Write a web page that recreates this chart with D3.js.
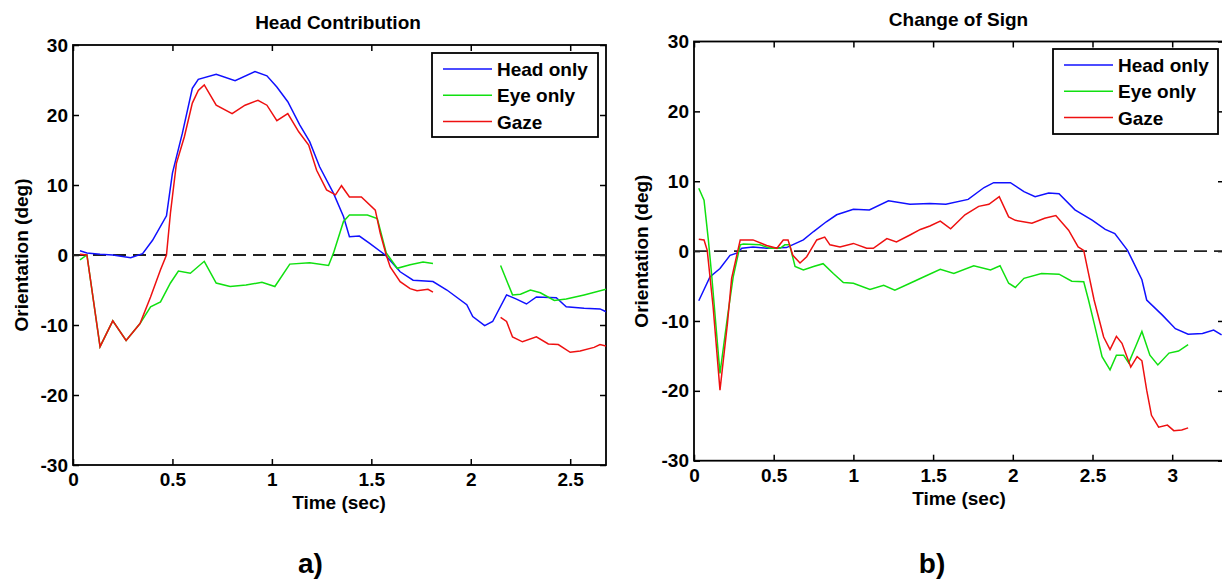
<!DOCTYPE html>
<html>
<head>
<meta charset="utf-8">
<script src="https://cdn.jsdelivr.net/npm/d3@7"></script>
<style>
  body { margin: 0; background: #fff; }
  text { font-family: "Liberation Sans", Arial, sans-serif; font-weight: bold; fill: #000; }
</style>
</head>
<body>
<script>
// [time (sec), orientation (deg)] ; null = gap in the record
const headA = [[0.035,0.6],[0.07,0.3],[0.136,0.1],[0.20,0.0],[0.29,-0.4],[0.35,0.2],[0.40,2.1],[0.47,5.6],[0.50,11.7],[0.55,17.4],[0.60,23.8],[0.63,25.1],[0.72,25.8],[0.815,24.9],[0.915,26.2],[0.975,25.6],[1.025,24.0],[1.08,21.9],[1.14,18.6],[1.19,16.2],[1.24,12.6],[1.31,8.8],[1.36,5.5],[1.39,2.6],[1.44,2.7],[1.49,1.7],[1.57,0.0],[1.645,-2.4],[1.71,-3.6],[1.81,-3.8],[1.88,-5.0],[1.98,-7.1],[2.01,-8.8],[2.07,-10.1],[2.11,-9.5],[2.18,-5.7],[2.23,-6.3],[2.28,-7.0],[2.33,-6.0],[2.43,-6.1],[2.48,-7.4],[2.57,-7.6],[2.65,-7.7],[2.68,-8.1]];
const eyeA = [[0.035,-0.7],[0.07,0.0],[0.136,-13.1],[0.20,-9.4],[0.267,-12.2],[0.337,-9.8],[0.39,-7.4],[0.44,-6.7],[0.49,-4.0],[0.53,-2.3],[0.59,-2.6],[0.66,-0.9],[0.72,-4.0],[0.79,-4.5],[0.87,-4.3],[0.95,-3.9],[1.015,-4.5],[1.09,-1.3],[1.19,-1.1],[1.285,-1.5],[1.31,0.3],[1.36,4.8],[1.39,5.7],[1.48,5.7],[1.53,5.2],[1.575,0.3],[1.63,-1.9],[1.695,-1.4],[1.76,-1.0],[1.81,-1.2],null,[2.15,-1.5],[2.21,-5.7],[2.25,-5.6],[2.30,-5.0],[2.35,-5.4],[2.42,-6.5],[2.48,-6.3],[2.57,-5.7],[2.68,-4.9]];
const gazeA = [[0.035,0.1],[0.07,0.0],[0.136,-13.1],[0.20,-9.4],[0.267,-12.2],[0.337,-9.8],[0.39,-6.0],[0.44,-2.1],[0.47,0.0],[0.49,6.0],[0.52,13.1],[0.56,16.9],[0.60,21.7],[0.63,23.5],[0.66,24.3],[0.72,21.4],[0.80,20.2],[0.865,21.4],[0.93,22.1],[0.975,21.4],[1.025,19.2],[1.08,20.2],[1.135,17.6],[1.185,15.7],[1.225,12.1],[1.275,9.3],[1.32,8.6],[1.35,9.9],[1.39,8.3],[1.45,8.3],[1.52,6.4],[1.545,3.1],[1.575,0.0],[1.595,-1.7],[1.645,-3.8],[1.695,-4.8],[1.73,-5.1],[1.785,-4.9],[1.81,-5.3],null,[2.15,-8.9],[2.18,-9.5],[2.21,-11.7],[2.26,-12.4],[2.33,-11.7],[2.39,-12.7],[2.44,-12.8],[2.50,-13.9],[2.55,-13.7],[2.62,-13.2],[2.65,-12.8],[2.68,-13.0]];

const headB = [[0.03,-7.1],[0.10,-3.7],[0.163,-2.5],[0.226,-0.6],[0.268,-0.3],[0.30,0.4],[0.37,0.6],[0.456,0.4],[0.58,0.5],[0.686,1.6],[0.75,2.8],[0.83,4.2],[0.895,5.2],[1.0,6.0],[1.10,5.9],[1.22,7.2],[1.355,6.7],[1.48,6.8],[1.58,6.7],[1.72,7.4],[1.82,9.1],[1.88,9.8],[1.985,9.8],[2.07,8.5],[2.14,7.8],[2.225,8.3],[2.29,8.2],[2.39,5.9],[2.50,4.4],[2.58,3.1],[2.64,2.5],[2.72,0.1],[2.75,-1.3],[2.81,-4.1],[2.84,-7.0],[2.94,-9.2],[3.02,-11.1],[3.10,-11.9],[3.19,-11.8],[3.26,-11.3],[3.31,-12.0]];
const eyeB = [[0.03,9.0],[0.063,7.3],[0.09,1.6],[0.11,-3.2],[0.163,-17.5],[0.21,-9.4],[0.246,-3.7],[0.29,0.9],[0.31,1.0],[0.414,0.9],[0.477,0.4],[0.54,0.4],[0.57,0.9],[0.60,0.9],[0.634,-2.2],[0.686,-2.7],[0.75,-2.2],[0.81,-1.8],[0.874,-3.2],[0.937,-4.5],[1.0,-4.6],[1.104,-5.5],[1.19,-4.9],[1.26,-5.6],[1.355,-4.6],[1.45,-3.6],[1.545,-2.6],[1.63,-3.2],[1.755,-2.1],[1.86,-2.7],[1.92,-2.1],[1.974,-4.6],[2.016,-5.2],[2.07,-3.9],[2.18,-3.2],[2.29,-3.3],[2.37,-4.3],[2.445,-4.4],[2.475,-7.0],[2.51,-10.3],[2.56,-15.1],[2.61,-17.0],[2.65,-14.9],[2.695,-14.9],[2.727,-16.0],[2.77,-13.7],[2.81,-11.5],[2.86,-14.9],[2.91,-16.3],[2.98,-14.6],[3.04,-14.3],[3.10,-13.4]];
const gazeB = [[0.03,1.7],[0.063,1.6],[0.083,0.1],[0.12,-8.0],[0.163,-19.9],[0.21,-10.3],[0.236,-3.9],[0.29,1.6],[0.37,1.6],[0.456,0.8],[0.52,0.4],[0.56,1.6],[0.59,1.6],[0.62,-0.6],[0.665,-1.7],[0.707,-0.8],[0.77,1.6],[0.82,2.0],[0.853,0.9],[0.916,0.6],[1.0,1.1],[1.083,0.4],[1.125,0.4],[1.21,1.8],[1.27,1.3],[1.355,2.3],[1.42,3.1],[1.48,3.6],[1.545,4.3],[1.61,3.2],[1.70,5.2],[1.786,6.4],[1.85,6.7],[1.915,7.8],[1.974,4.9],[2.016,4.4],[2.12,4.0],[2.20,4.7],[2.27,5.1],[2.35,3.0],[2.41,0.6],[2.445,0.1],[2.475,-3.2],[2.51,-7.0],[2.57,-12.3],[2.61,-14.1],[2.65,-12.2],[2.685,-13.2],[2.74,-16.6],[2.78,-15.1],[2.81,-15.7],[2.84,-19.9],[2.87,-23.5],[2.915,-25.2],[2.97,-24.9],[3.01,-25.7],[3.06,-25.6],[3.10,-25.3]];

const seriesNames = ["Head only", "Eye only", "Gaze"];
const seriesColors = ["#1010ff", "#10e010", "#ee1010"];
const xTicksA = [0, 0.5, 1, 1.5, 2, 2.5];
const xTicksB = [0, 0.5, 1, 1.5, 2, 2.5, 3];
const yTicks = [-30, -20, -10, 0, 10, 20, 30];

const W = 1222, H = 581;
const svg = d3.select("body").append("svg")
    .attr("width", W)
    .attr("height", H);

const drawPanel = (p) => {
  const x = d3.scaleLinear().domain([0, p.xMax]).range([p.left, p.right]);
  const y = d3.scaleLinear().domain([-30, 30]).range([p.bottom, p.top]);
  const g = svg.append("g");

  g.append("clipPath").attr("id", p.id)
    .append("rect")
      .attr("x", p.left).attr("y", p.top)
      .attr("width", p.right - p.left).attr("height", p.bottom - p.top);

  // inward ticks on all four sides, MATLAB style
  const fmt = d => String(d);
  const ax = [
    [d3.axisBottom(x).tickValues(p.xTicks).tickFormat(fmt).tickPadding(8), `translate(0,${p.bottom})`],
    [d3.axisTop(x).tickValues(p.xTicks).tickFormat(""), `translate(0,${p.top})`],
    [d3.axisLeft(y).tickValues(yTicks).tickFormat(fmt).tickPadding(5), `translate(${p.left},0)`],
    [d3.axisRight(y).tickValues(yTicks).tickFormat(""), `translate(${p.right},0)`]
  ];
  ax.forEach(([a, t]) => {
    const s = g.append("g").attr("transform", t)
      .call(a.tickSizeInner(-6).tickSizeOuter(0));
    s.select(".domain").remove();
    s.selectAll("line").attr("stroke", "#000").attr("stroke-width", 1.5);
    s.selectAll("text").attr("font-size", 19).attr("font-family", null);
  });

  g.append("rect")
    .attr("x", p.left).attr("y", p.top)
    .attr("width", p.right - p.left).attr("height", p.bottom - p.top)
    .attr("fill", "none").attr("stroke", "#000").attr("stroke-width", 1.8);

  const plot = g.append("g").attr("clip-path", `url(#${p.id})`);

  plot.append("line")
    .attr("x1", x(0)).attr("x2", x(p.xMax))
    .attr("y1", y(0)).attr("y2", y(0))
    .attr("stroke", "#222").attr("stroke-width", 1.8)
    .attr("stroke-dasharray", "13,7");

  const line = d3.line()
    .defined(d => d !== null)
    .x(d => x(d[0]))
    .y(d => y(d[1]));

  plot.selectAll(".series")
    .data(p.series)
    .enter().append("path")
      .attr("class", "series")
      .attr("fill", "none")
      .attr("stroke", (d, i) => seriesColors[i])
      .attr("stroke-width", 1.5)
      .attr("d", line);

  g.append("text")
    .attr("x", p.titleX).attr("y", p.titleY)
    .attr("text-anchor", "middle").attr("font-size", 19)
    .text(p.title);

  g.append("text")
    .attr("x", p.xLabelX).attr("y", p.xLabelY)
    .attr("text-anchor", "middle").attr("font-size", 19)
    .text("Time (sec)");

  g.append("text")
    .attr("transform", `translate(${p.yLabelX},${(p.top + p.bottom) / 2}) rotate(-90)`)
    .attr("text-anchor", "middle").attr("font-size", 19)
    .text("Orientation (deg)");

  g.append("text")
    .attr("x", p.tagX).attr("y", 573)
    .attr("text-anchor", "middle").attr("font-size", 28)
    .text(p.tag);

  // legend
  const L = p.legend;
  const leg = g.append("g");
  leg.append("rect")
    .attr("x", L.x).attr("y", L.y).attr("width", L.w).attr("height", L.h)
    .attr("fill", "#fff").attr("stroke", "#000").attr("stroke-width", 1.8);
  const item = leg.selectAll(".item")
    .data(seriesNames)
    .enter().append("g")
      .attr("transform", (d, i) => `translate(${L.x},${L.y + 23 + i * 26.3})`);
  item.append("line")
    .attr("x1", 11).attr("x2", 60).attr("y1", -7).attr("y2", -7)
    .attr("stroke", (d, i) => seriesColors[i]).attr("stroke-width", 1.5);
  item.append("text")
    .attr("x", 65).attr("font-size", 19)
    .text(d => d);
};

drawPanel({
  id: "clipA", left: 73, right: 606, top: 45, bottom: 465, xMax: 2.68,
  xTicks: xTicksA, series: [headA, eyeA, gazeA],
  title: "Head Contribution", titleX: 338, titleY: 29,
  xLabelX: 339, xLabelY: 509, yLabelX: 27.5, tag: "a)", tagX: 310.5,
  legend: {x: 432, y: 53, w: 166, h: 84}
});

drawPanel({
  id: "clipB", left: 694, right: 1224, top: 41.5, bottom: 460.7, xMax: 3.325,
  xTicks: xTicksB, series: [headB, eyeB, gazeB],
  title: "Change of Sign", titleX: 958.5, titleY: 26,
  xLabelX: 959, xLabelY: 505, yLabelX: 647.5, tag: "b)", tagX: 932,
  legend: {x: 1053, y: 49, w: 165, h: 85}
});
</script>
</body>
</html>
